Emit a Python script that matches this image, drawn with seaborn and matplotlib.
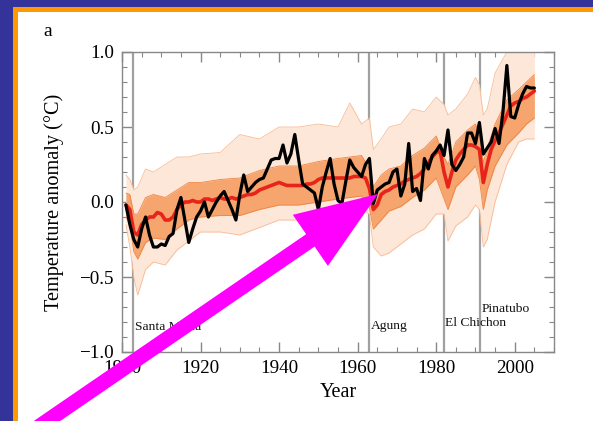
import matplotlib
matplotlib.use("Agg")
import matplotlib.pyplot as plt
import seaborn as sns
import numpy as np
import pandas as pd
from matplotlib.patches import Rectangle, Polygon

# ---------------- data ----------------
years = list(range(1901, 2006))

observed = [
    -0.02, -0.15, -0.25, -0.30, -0.18, -0.10, -0.22, -0.30, -0.30, -0.28,
    -0.29, -0.23, -0.21, -0.05, 0.03, -0.12, -0.27, -0.18, -0.10, -0.06,
    0.00, -0.10, -0.05, 0.00, 0.04, 0.07, 0.01, -0.05, -0.12, 0.05,
    0.18, 0.07, 0.10, 0.13, 0.15, 0.16, 0.22, 0.28, 0.29, 0.29,
    0.38, 0.26, 0.32, 0.45, 0.28, 0.12, 0.10, 0.08, 0.06, -0.05,
    0.10, 0.20, 0.29, 0.12, 0.01, -0.01, 0.14, 0.28, 0.23, 0.20,
    0.17, 0.25, 0.29, -0.01, 0.08, 0.10, 0.12, 0.13, 0.20, 0.22,
    0.04, 0.12, 0.39, 0.07, 0.09, 0.01, 0.29, 0.22, 0.31, 0.34,
    0.38, 0.31, 0.48, 0.25, 0.21, 0.25, 0.30, 0.46, 0.46, 0.39,
    0.53, 0.32, 0.36, 0.40, 0.49, 0.39, 0.60, 0.91, 0.57, 0.56,
    0.65, 0.72, 0.77, 0.76, 0.76,
]

model_mean = [
    -0.02, -0.05, -0.20, -0.22, -0.15, -0.12, -0.10, -0.10, -0.07, -0.08,
    -0.12, -0.12, -0.10, -0.05, -0.02, 0.00, 0.00, 0.01, 0.00, 0.00,
    0.02, 0.02, 0.01, 0.02, 0.03, 0.02, 0.02, 0.03, 0.02, 0.03,
    0.04, 0.05, 0.05, 0.06, 0.08, 0.09, 0.10, 0.11, 0.12, 0.13,
    0.12, 0.11, 0.11, 0.11, 0.11, 0.11, 0.12, 0.12, 0.13, 0.15,
    0.16, 0.16, 0.16, 0.16, 0.16, 0.16, 0.16, 0.16, 0.17, 0.17,
    0.17, 0.16, 0.09, -0.05, -0.02, 0.05, 0.07, 0.08, 0.10, 0.11,
    0.12, 0.14, 0.15, 0.16, 0.17, 0.19, 0.22, 0.26, 0.30, 0.33,
    0.34, 0.20, 0.10, 0.20, 0.28, 0.32, 0.35, 0.38, 0.38, 0.37,
    0.35, 0.13, 0.25, 0.35, 0.41, 0.46, 0.52, 0.58, 0.64, 0.66,
    0.67, 0.69, 0.70, 0.72, 0.74,
]

# ensemble spread (individual model runs), read at key years
env_years = [1901, 1902, 1903, 1904, 1906, 1908, 1911, 1914, 1917, 1920,
             1925, 1930, 1935, 1940, 1945, 1950, 1955, 1958, 1961, 1963,
             1964, 1966, 1968, 1971, 1974, 1977, 1980, 1982, 1983, 1985,
             1988, 1990, 1991, 1992, 1993, 1995, 1998, 2001, 2003, 2005]
env_lo = [-0.15, -0.30, -0.50, -0.62, -0.45, -0.40, -0.42, -0.32, -0.26, -0.20,
          -0.20, -0.22, -0.17, -0.12, -0.12, -0.08, -0.07, -0.05, -0.05, -0.08,
          -0.30, -0.36, -0.34, -0.28, -0.22, -0.18, -0.08, -0.08, -0.26, -0.16,
          -0.10, -0.02, -0.05, -0.30, -0.25, 0.00, 0.25, 0.40, 0.42, 0.42]
env_hi = [0.18, 0.15, 0.08, 0.10, 0.22, 0.20, 0.25, 0.30, 0.30, 0.32,
          0.33, 0.45, 0.42, 0.50, 0.50, 0.52, 0.50, 0.66, 0.52, 0.56,
          0.35, 0.42, 0.50, 0.52, 0.62, 0.60, 0.70, 0.65, 0.58, 0.62,
          0.72, 0.83, 0.78, 0.58, 0.62, 0.86, 1.00, 1.05, 1.05, 1.00]
core_lo = [-0.10, -0.15, -0.33, -0.38, -0.27, -0.24, -0.25, -0.18, -0.12, -0.10,
           -0.09, -0.09, -0.05, -0.02, -0.02, 0.00, 0.02, 0.03, 0.04, -0.04,
           -0.18, -0.12, -0.06, -0.03, 0.03, 0.08, 0.16, 0.02, -0.05, 0.10,
           0.18, 0.24, 0.15, -0.05, 0.08, 0.24, 0.38, 0.46, 0.52, 0.56]
core_hi = [0.06, 0.05, -0.08, -0.08, 0.03, 0.05, 0.03, 0.08, 0.13, 0.13,
           0.15, 0.16, 0.21, 0.24, 0.24, 0.27, 0.29, 0.30, 0.31, 0.22,
           0.10, 0.18, 0.22, 0.24, 0.31, 0.36, 0.44, 0.30, 0.25, 0.40,
           0.48, 0.52, 0.45, 0.26, 0.36, 0.52, 0.68, 0.75, 0.80, 0.85]

volcano_names = ["Santa Maria", "Agung", "El Chichon", "Pinatubo"]
volcano_years = [1902.9, 1963.0, 1982.0, 1991.2]
volcano_label_y = [-0.83, -0.83, -0.81, -0.71]

xticks = [1900, 1920, 1940, 1960, 1980, 2000]
yticks = [-1.0, -0.5, 0.0, 0.5, 1.0]
ytick_labels = ["\u22121.0", "\u22120.5", "0.0", "0.5", "1.0"]

# ---------------- style ----------------
sns.set_theme(style="ticks")
plt.rcParams["font.family"] = ["Liberation Serif", "DejaVu Serif"]

W, H = 593, 421
fig = plt.figure(figsize=(W / 100, H / 100), dpi=100)
fig.patch.set_facecolor("white")

purple = "#333399"
orange = "#ff9900"
fig.add_artist(Rectangle((0, 1 - 7 / H), 1, 7 / H, transform=fig.transFigure,
                         color=purple, lw=0, zorder=0))
fig.add_artist(Rectangle((0, 0), 13 / W, 1, transform=fig.transFigure,
                         color=purple, lw=0, zorder=0))
fig.add_artist(Rectangle((13 / W, 1 - 12 / H), 1, 5 / H, transform=fig.transFigure,
                         color=orange, lw=0, zorder=0))
fig.add_artist(Rectangle((13 / W, 0), 5 / W, 1 - 7 / H, transform=fig.transFigure,
                         color=orange, lw=0, zorder=0))

ax = fig.add_axes([122 / W, 1 - 352 / H, 432 / W, 300 / H])
ax.set_facecolor("white")

# volcano lines
for yr in volcano_years:
    ax.axvline(yr, color="#a0a0a0", lw=1.6, zorder=0.8)

# ensemble spread
ax.fill_between(env_years, env_lo, env_hi, color="#fde7d8", lw=0, zorder=1)
ax.plot(env_years, env_lo, color="#f8bb95", lw=0.6, zorder=1.1)
ax.plot(env_years, env_hi, color="#f8bb95", lw=0.6, zorder=1.1)
ax.fill_between(env_years, core_lo, core_hi, color="#f6a56f", lw=0, zorder=1.2)
ax.plot(env_years, core_lo, color="#f08443", lw=0.6, zorder=1.3)
ax.plot(env_years, core_hi, color="#f08443", lw=0.6, zorder=1.3)

df = pd.DataFrame({"Year": years, "mean": model_mean, "obs": observed})
sns.lineplot(data=df, x="Year", y="mean", color="#e8241a", lw=2.6, ax=ax, zorder=3)
sns.lineplot(data=df, x="Year", y="obs", color="black", lw=2.3, ax=ax, zorder=4)

for name, yr, yy in zip(volcano_names, volcano_years, volcano_label_y):
    ax.text(yr + 0.3, yy, name, fontsize=9.7, color="#111111", va="center", ha="left", zorder=5)

ax.set_xlim(1900, 2010)
ax.set_ylim(-1.0, 1.0)
ax.set_xticks(xticks)
ax.set_yticks(yticks, labels=ytick_labels)
ax.xaxis.set_minor_locator(matplotlib.ticker.MultipleLocator(5))
ax.yaxis.set_minor_locator(matplotlib.ticker.MultipleLocator(0.1))
ax.tick_params(which="both", direction="in", top=True, right=True,
               color="#888888", labelsize=13.8, labelcolor="black")
ax.tick_params(which="major", length=7, width=1, pad=6)
ax.tick_params(which="minor", length=3.5, width=0.8)
for s in ax.spines.values():
    s.set_color("#888888")
    s.set_linewidth(1.0)

ax.set_xlabel("Year", fontsize=14.5, labelpad=4, color="black")
ax.set_ylabel("Temperature anomaly (\u00b0C)", fontsize=14.6, labelpad=11, color="black")

fig.text(48 / W, 1 - 31 / H, "a", fontsize=14, ha="center", va="center", color="black")

# magenta arrow (annotation) in pixel geometry
tip = np.array([378.0, 194.0])
u = np.array([0.8246, -0.5655])
n = np.array([0.5655, 0.8246])
head_len, head_half, shaft_half, total = 82.0, 31.0, 7.5, 460.0
base = tip - head_len * u
tail = tip - total * u
pts_px = [tip, base + head_half * n, base + shaft_half * n, tail + shaft_half * n,
          tail - shaft_half * n, base - shaft_half * n, base - head_half * n]
pts_fig = [(p[0] / W, 1 - p[1] / H) for p in pts_px]
fig.add_artist(Polygon(pts_fig, closed=True, transform=fig.transFigure,
                       facecolor="#ff00ff", edgecolor="none", zorder=10))

fig.savefig("out.png", dpi=100)
